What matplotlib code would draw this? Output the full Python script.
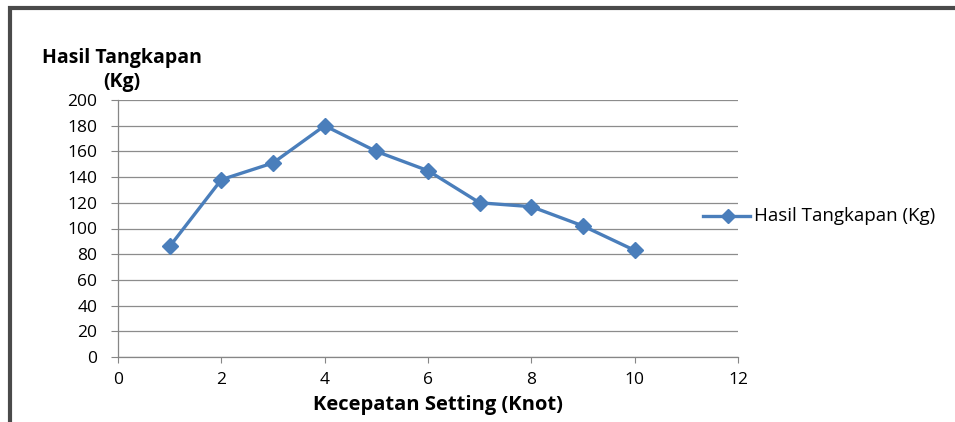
import matplotlib
matplotlib.use("Agg")
import matplotlib.pyplot as plt
from matplotlib.patches import Rectangle
from matplotlib.lines import Line2D

plt.rcParams['font.family'] = ['Open Sans', 'DejaVu Sans']

speed = [1, 2, 3, 4, 5, 6, 7, 8, 9, 10]
catch = [86, 138, 151, 180, 160, 145, 120, 117, 102, 83]
xticks = [0, 2, 4, 6, 8, 10, 12]
yticks = [0, 20, 40, 60, 80, 100, 120, 140, 160, 180, 200]

W, H = 955, 422
fig = plt.figure(figsize=(W / 100, H / 100), dpi=100)
ax = fig.add_axes([118 / W, 1 - 357 / H, (738 - 118) / W, (357 - 100) / H])

color = '#4A7EBB'
ax.plot(speed, catch, color=color, lw=2.4, marker='D', markersize=8,
        markeredgecolor=color, markerfacecolor=color, zorder=3, clip_on=False)

ax.set_xlim(0, 12)
ax.set_ylim(0, 200)
ax.set_xticks(xticks)
ax.set_yticks(yticks)
ax.tick_params(axis='both', labelsize=12.5, color='#868686',
               direction='out', labelcolor='#000000')
ax.tick_params(axis='y', length=5, pad=10)
ax.tick_params(axis='x', length=4, pad=7)
ax.yaxis.grid(True, color='#8c8c8c', lw=0.9)
ax.set_axisbelow(True)
for s in ['top', 'right']:
    ax.spines[s].set_visible(False)
for s in ['left', 'bottom']:
    ax.spines[s].set_color('#868686')
    ax.spines[s].set_linewidth(0.9)

fig.text(122 / W, 1 - 70 / H, 'Hasil Tangkapan\n(Kg)', ha='center', va='center',
         fontsize=14, fontweight='bold', linespacing=1.2)
fig.text(438 / W, 1 - 405 / H, 'Kecepatan Setting (Knot)', ha='center', va='center',
         fontsize=14.5, fontweight='bold')

# legend
fig.lines.append(Line2D([703 / W, 750 / W], [1 - 216 / H, 1 - 216 / H],
                        transform=fig.transFigure, color=color, lw=2.4))
fig.lines.append(Line2D([728 / W], [1 - 216 / H], transform=fig.transFigure,
                        color=color, marker='D', markersize=7, lw=0))
fig.text(754 / W, 1 - 216 / H, 'Hasil Tangkapan (Kg)', ha='left', va='center',
         fontsize=13.5)

# frame border
fig.patches.append(Rectangle((10 / W, -0.1), 1.2, 1 - 8.5 / H + 0.1,
                             transform=fig.transFigure, fill=False,
                             edgecolor='#4a4a4a', lw=3))

fig.savefig('out.png', dpi=100)
